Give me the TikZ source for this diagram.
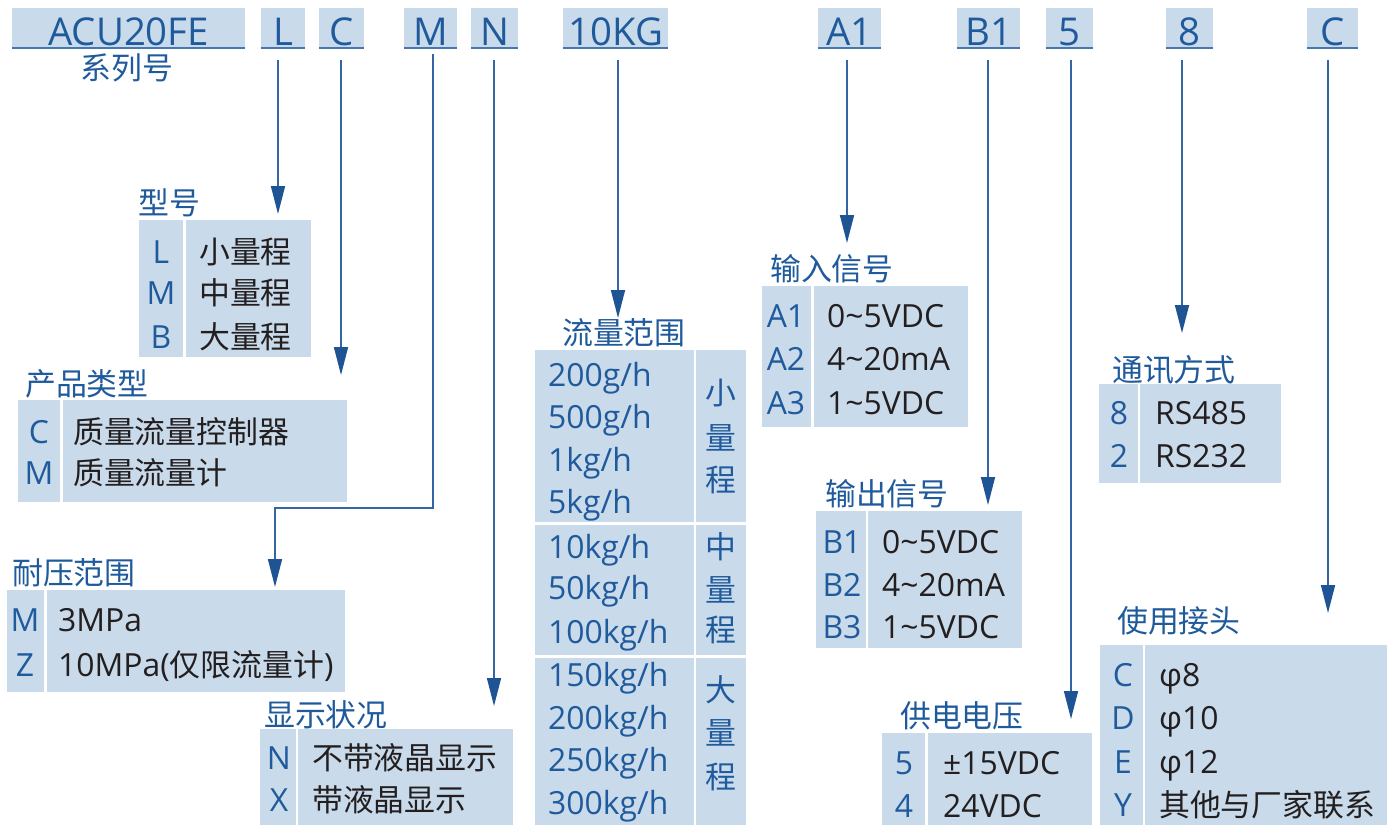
\documentclass[tikz,border=0pt]{standalone}
\usepackage{fontspec}
\setmainfont{Open Sans}
\newfontfamily\cjk{Noto Sans CJK SC}
\newcommand\cjkt{\fontsize{31}{34}\selectfont\cjk}
\usetikzlibrary{arrows.meta}
\definecolor{codeblue}{HTML}{1F5A9C}
\definecolor{cellfill}{HTML}{C9DAEA}
\definecolor{arrowline}{HTML}{3566A3}
\definecolor{arrowhead}{HTML}{1E5494}
\definecolor{rulerblue}{HTML}{4577B0}
\definecolor{valblack}{HTML}{231F20}
\tikzset{
  codebox/.style={
    rectangle,
    fill=cellfill,
    inner sep=0pt,
    minimum height=40bp,
    text height=34bp,
    text depth=0pt,
    text=codeblue,
    font=\fontsize{38.5}{40}\selectfont,
    anchor=north west
  },
  ruler/.style={draw=rulerblue, line width=1.8bp},
  cell/.style={rectangle, fill=cellfill, inner sep=0pt, anchor=north west},
  title/.style={text=codeblue, font=\cjkt, inner sep=0pt, anchor=base west},
  keytext/.style={text=codeblue, font=\fontsize{32}{34}\selectfont, inner sep=0pt, anchor=base},
  valtext/.style={text=valblack, font=\fontsize{32}{34}\selectfont, inner sep=0pt, anchor=base west},
  flow/.style={-{Triangle[length=28bp, width=14bp, color=arrowhead]}, line width=1.6bp, draw=arrowline}
}

\begin{document}
\begin{tikzpicture}[x=1bp, y=-1bp]
\useasboundingbox (0,0) rectangle (1394,825);

% Header codes.
\foreach \x/\w/\t/\n in {12/233/ACU20FE/series, 261/44/L/type, 319/45/C/kind, 404/53/M/press,
    471/47/N/disp, 563/105/10KG/flow, 818/63/A1/in, 957/63/B1/out, 1046/47/5/pow,
    1166/47/8/com, 1307/51/C/joint} {
  \node[codebox, minimum width=\w bp] (hdr\n) at (\x,8) {\t};
  \draw[ruler] (hdr\n.south west) -- (hdr\n.south east);
}
\node[title, anchor=base] (seriesname) at (127,79) {系列号};

% Type.
\node[title] (typetitle) at (138,214) {型号};
\node[cell, minimum width=44bp, minimum height=137bp] (typekey) at (139,220) {};
\node[cell, minimum width=125bp, minimum height=137bp] (typeval) at (186,220) {};
\foreach \y/\k/\v [count=\i] in {252/L/小量程, 293/M/中量程, 337/B/大量程} {
  \node[keytext] (typek\i) at (161,\y+11) {\k};
  \node[valtext] (typev\i) at (199,\y+11) {\cjkt\v};
}

% Product kind.
\node[title] (kindtitle) at (25,395) {产品类型};
\node[cell, minimum width=42bp, minimum height=102bp] (kindkey) at (18,400) {};
\node[cell, minimum width=284bp, minimum height=102bp] (kindval) at (63,400) {};
\foreach \y/\k/\v [count=\i] in {432/C/质量流量控制器, 473/M/质量流量计} {
  \node[keytext] (kindk\i) at (39,\y+11) {\k};
  \node[valtext] (kindv\i) at (73,\y+11) {\cjkt\v};
}

% Pressure.
\node[title] (presstitle) at (12,584) {耐压范围};
\node[cell, minimum width=37bp, minimum height=102bp] (presskey) at (7,590) {};
\node[cell, minimum width=298bp, minimum height=102bp] (pressval) at (47,590) {};
\node[keytext] (pressk1) at (25,631) {M};
\node[valtext] (pressv1) at (58,631) {3MPa};
\node[keytext] (pressk2) at (25,676) {Z};
\node[valtext] (pressv2) at (58,676) {10MPa({\cjkt 仅限流量计})};

% Display.
\node[title] (disptitle) at (264,726) {显示状况};
\node[cell, minimum width=36bp, minimum height=96bp] (dispkey) at (260,729) {};
\node[cell, minimum width=215bp, minimum height=96bp] (dispval) at (298,729) {};
\foreach \y/\k/\v [count=\i] in {758/N/不带液晶显示, 800/X/带液晶显示} {
  \node[keytext] (dispk\i) at (279,\y+11) {\k};
  \node[valtext] (dispv\i) at (312,\y+11) {\cjkt\v};
}

% Flow range.
\node[title] (flowtitle) at (562,344) {流量范围};
\foreach \top/\h [count=\i] in {350/172, 525/130, 658/167} {
  \node[cell, minimum width=159bp, minimum height=\h bp] (flowl\i) at (535,\top) {};
  \node[cell, minimum width=50bp, minimum height=\h bp] (flowr\i) at (696,\top) {};
}
\foreach \y/\v [count=\i] in {375/200g, 417/500g, 460/1kg, 502/5kg, 547/10kg, 588/50kg,
    632/100kg, 675/150kg, 718/200kg, 760/250kg, 803/300kg} {
  \node[valtext, text=codeblue] (flowv\i) at (548,\y+11) {\v/h};
}
\foreach \y/\c [count=\i] in {393/小, 438/量, 480/程, 547/中, 590/量, 630/程, 690/大, 733/量, 777/程} {
  \node[keytext] (flowc\i) at (721,\y+11) {\cjkt\c};
}

% Input signal.
\node[title] (intitle) at (770,280) {输入信号};
\node[cell, minimum width=49bp, minimum height=141bp] (inkey) at (762,286) {};
\node[cell, minimum width=154bp, minimum height=141bp] (inval) at (814,286) {};
\foreach \y/\k/\v [count=\i] in {316/A1/0\char`~5VDC, 359/A2/4\char`~20mA, 403/A3/1\char`~5VDC} {
  \node[keytext] (ink\i) at (786,\y+11) {\k};
  \node[valtext] (inv\i) at (827,\y+11) {\v};
}

% Output signal.
\node[title] (outtitle) at (825,505) {输出信号};
\node[cell, minimum width=50bp, minimum height=137bp] (outkey) at (816,511) {};
\node[cell, minimum width=154bp, minimum height=137bp] (outval) at (868,511) {};
\foreach \y/\k/\v [count=\i] in {542/B1/0\char`~5VDC, 585/B2/4\char`~20mA, 627/B3/1\char`~5VDC} {
  \node[keytext] (outk\i) at (842,\y+11) {\k};
  \node[valtext] (outv\i) at (882,\y+11) {\v};
}

% Power supply.
\node[title] (powtitle) at (900,727) {供电电压};
\node[cell, minimum width=43bp, minimum height=92bp] (powkey) at (882,733) {};
\node[cell, minimum width=164bp, minimum height=92bp] (powval) at (928,733) {};
\node[keytext] (powk1) at (904,774) {5};
\node[valtext] (powv1) at (943,774) {±15VDC};
\node[keytext] (powk2) at (904,817) {4};
\node[valtext] (powv2) at (943,817) {24VDC};

% Communication.
\node[title] (comtitle) at (1112,381) {通讯方式};
\node[cell, minimum width=39bp, minimum height=99bp] (comkey) at (1099,384) {};
\node[cell, minimum width=141bp, minimum height=99bp] (comval) at (1140,384) {};
\foreach \y/\k/\v [count=\i] in {413/8/RS485, 456/2/RS232} {
  \node[keytext] (comk\i) at (1119,\y+11) {\k};
  \node[valtext] (comv\i) at (1155,\y+11) {\v};
}

% Joint.
\node[title] (jointtitle) at (1117,632) {使用接头};
\node[cell, minimum width=43bp, minimum height=180bp] (jointkey) at (1100,645) {};
\node[cell, minimum width=242bp, minimum height=180bp] (jointval) at (1145,645) {};
\foreach \y/\k/\v [count=\i] in {675/C/φ8, 718/D/φ10, 762/E/φ12, 805/Y/{\cjkt 其他与厂家联系}} {
  \node[keytext] (jointk\i) at (1123,\y+11) {\k};
  \node[valtext] (jointv\i) at (1159,\y+11) {\v};
}

% Arrows from codes.
\coordinate (typetip) at (278,214);
\coordinate (kindtip) at (341,375);
\coordinate (pressbend) at (433,508);
\coordinate (presstip) at (275,587);
\coordinate (disptip) at (494,706);
\coordinate (flowtip) at (618,318);
\coordinate (intip) at (847,243);
\coordinate (outtip) at (988,505);
\coordinate (powtip) at (1071,719);
\coordinate (comtip) at (1182,333);
\coordinate (jointtip) at (1328,613);
\draw[flow] (hdrtype.south -| typetip) ++(0,12) -- (typetip);
\draw[flow] (hdrkind.south -| kindtip) ++(0,12) -- (kindtip);
\draw[flow] (hdrpress.south -| pressbend) ++(0,6) -- (pressbend) -| (presstip);
\draw[flow] (hdrdisp.south -| disptip) ++(0,12) -- (disptip);
\draw[flow] (hdrflow.south -| flowtip) ++(0,12) -- (flowtip);
\draw[flow] (hdrin.south -| intip) ++(0,12) -- (intip);
\draw[flow] (hdrout.south -| outtip) ++(0,12) -- (outtip);
\draw[flow] (hdrpow.south -| powtip) ++(0,12) -- (powtip);
\draw[flow] (hdrcom.south -| comtip) ++(0,12) -- (comtip);
\draw[flow] (hdrjoint.south -| jointtip) ++(0,12) -- (jointtip);

\end{tikzpicture}
\end{document}
